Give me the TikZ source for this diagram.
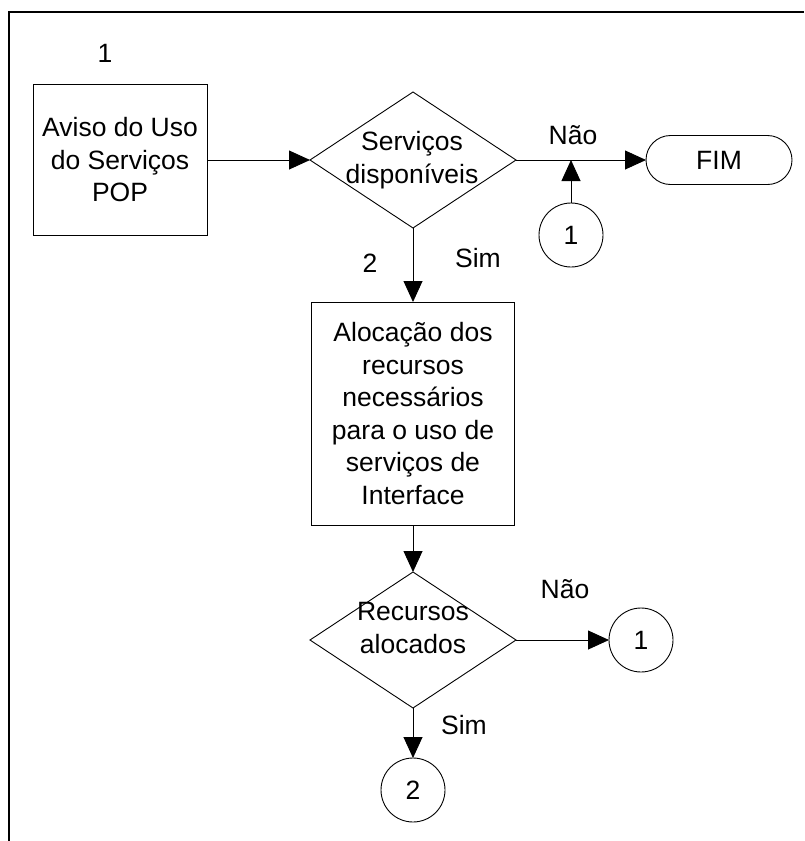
\documentclass[tikz,border=0pt]{standalone}
\usepackage{fontspec}
\setmainfont{Liberation Sans}
\usetikzlibrary{shapes.geometric,shapes.misc,arrows.meta}
\begin{document}
\begin{tikzpicture}[x=1pt,y=-1pt,
  every node/.style={font=\fontsize{26.5}{32.5}\selectfont},
  procbox/.style={draw, line width=0.9pt, rectangle, inner sep=0pt, outer sep=0pt},
  decision/.style={draw, line width=0.9pt, diamond, inner sep=0pt, outer sep=0pt,
    minimum width=206pt, minimum height=136pt},
  terminal/.style={draw, line width=0.9pt, rounded rectangle, inner sep=0pt, outer sep=0pt,
    minimum width=146pt, minimum height=49pt},
  connector/.style={draw, line width=0.9pt, circle, inner sep=0pt, outer sep=0pt,
    minimum size=64pt},
  txt/.style={align=center, inner sep=0pt},
  flow/.style={line width=0.9pt, -{Triangle[length=21pt,width=19pt]}}
]
\useasboundingbox (0,0) rectangle (804,841);

% outer frame (open at right and bottom)
\draw[line width=2pt] (9,841) -- (9,12) -- (804,12);

% shapes
\node[procbox, minimum width=174pt, minimum height=151pt] (aviso) at (120,160) {};
\node[txt] (avisot) at (aviso) {Aviso do Uso\\do Serviços\\POP};

\node[decision] (d1) at (413,160) {};
\node[txt] (d1t) at (412,160) {Serviços\\disponíveis};

\node[terminal] (fim) at (719,160) {FIM};

\node[connector] (c1a) at (571,235) {1};
\coordinate (join) at (571,160);

\node[procbox, minimum width=203pt, minimum height=223pt] (aloc) at (413,413.5) {};
\node[txt] (aloct) at (aloc) {Alocação dos\\recursos\\necessários\\para o uso de\\serviços de\\Interface};

\node[decision] (d2) at (413,640) {};
\node[txt] (d2t) at (413,628) {Recursos\\alocados};

\node[connector] (c1b) at (641,640) {1};
\node[connector] (c2) at (413,790) {2};

% labels
\node[txt] (n1) at (105,53) {1};
\node[txt] (nao1) at (573,135) {Não};
\node[txt] (n2) at (370,263) {2};
\node[txt] (sim1) at (478,258) {Sim};
\node[txt] (nao2) at (565,589) {Não};
\node[txt] (sim2) at (464,725) {Sim};

% connectors
\draw[flow] (aviso.east) -- (d1.west);
\draw[flow] (d1.east) -- (fim.west);
\draw[flow] (c1a.north) -- (join);
\draw[flow] (d1.south) -- (aloc.north);
\draw[flow] (aloc.south) -- (d2.north);
\draw[flow] (d2.east) -- (c1b.west);
\draw[flow] (d2.south) -- (c2.north);
\end{tikzpicture}
\end{document}
